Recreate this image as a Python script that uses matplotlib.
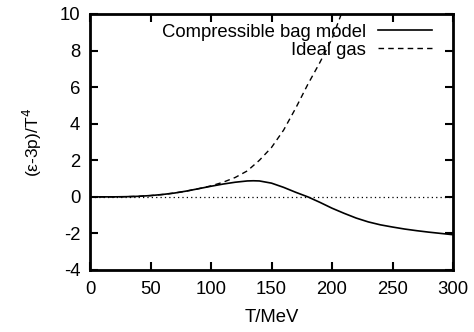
import matplotlib
matplotlib.use("Agg")
import matplotlib.pyplot as plt
import numpy as np

plt.rcParams['font.family'] = ['Liberation Sans', 'DejaVu Sans']
plt.rcParams['axes.unicode_minus'] = False

T_bag = [0, 10, 20, 30, 40, 50, 60, 70, 80, 90, 100, 110, 120, 130, 135, 140, 150,
         160, 170, 180, 190, 200, 210, 220, 230, 240, 250, 260, 270, 280, 290, 300]
bag = [0.0, 0.0, 0.0, 0.01, 0.03, 0.07, 0.13, 0.21, 0.32, 0.45, 0.58, 0.70, 0.80, 0.87,
       0.88, 0.87, 0.75, 0.52, 0.25, 0.0, -0.3, -0.62, -0.9, -1.16, -1.37, -1.53, -1.65,
       -1.76, -1.85, -1.93, -2.0, -2.07]

T_ideal = [0, 10, 20, 30, 40, 50, 60, 70, 80, 90, 100, 110, 120, 130, 140, 150, 160,
           170, 180, 190, 200, 210]
ideal = [0.0, 0.0, 0.0, 0.01, 0.03, 0.07, 0.13, 0.21, 0.32, 0.45, 0.60, 0.80, 1.06,
         1.42, 2.0, 2.7, 3.65, 4.85, 6.15, 7.35, 8.65, 10.4]

xticks = [0, 50, 100, 150, 200, 250, 300]
yticks = [-4, -2, 0, 2, 4, 6, 8, 10]

fig = plt.figure(figsize=(4.74, 3.32), dpi=100)
ax = fig.add_axes([90/474, 1 - 270/332, (453-90)/474, (270-14)/332])

ax.plot([0, 300], [0, 0], color='black', lw=0.9, linestyle=(0, (1, 2.5)))
ax.plot(T_bag, bag, color='black', lw=1.2, label='Compressible bag model')
ax.plot(T_ideal, ideal, color='black', lw=1.0, linestyle=(0, (4, 3)), label='Ideal gas')

ax.set_xlim(0, 300)
ax.set_ylim(-4, 10)
ax.set_xticks(xticks)
ax.set_yticks(yticks)
ax.tick_params(direction='in', length=6, width=1.5, top=True, right=True,
               labelsize=13.3)
ax.tick_params(axis='x', pad=8)
ax.tick_params(axis='y', pad=7)
for s in ax.spines.values():
    s.set_linewidth(2)

ax.set_xlabel('T/MeV', fontsize=13.3, labelpad=8)
ax.set_ylabel('(ε-3p)/T$^4$', fontsize=12.5, labelpad=11)

leg = ax.legend(loc='upper right', bbox_to_anchor=(0.942, 0.962), frameon=False,
                fontsize=13.3, markerfirst=False, handlelength=2.9, borderaxespad=0.0,
                borderpad=0.0, labelspacing=0.06, handletextpad=0.65)
for t in leg.get_texts():
    t.set_ha('right')
leg._legend_box.align = 'right'

fig.savefig('out.png', dpi=100)
